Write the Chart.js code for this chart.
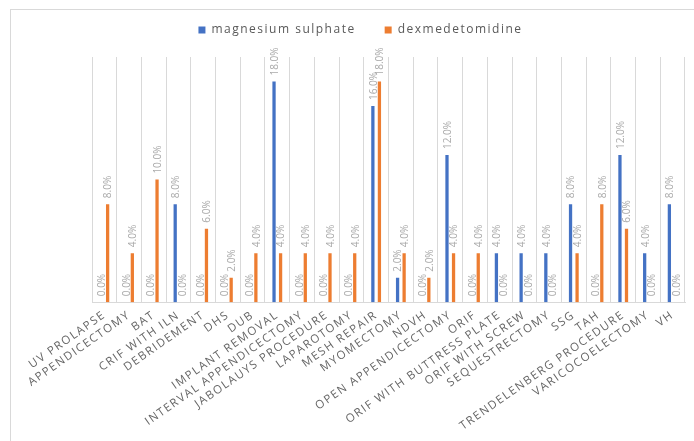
<!DOCTYPE html>
<html><head><meta charset="utf-8">
<script src="https://cdn.jsdelivr.net/npm/chart.js@4.4.1/dist/chart.umd.min.js"></script>
<style>html,body{margin:0;padding:0;background:#fff;}canvas{display:block;}</style>
</head><body>
<canvas id="c" width="694" height="441"></canvas>
<script>
const categories = ['UV PROLAPSE','APPENDICECTOMY','BAT','CRIF WITH ILN','DEBRIDEMENT','DHS','DUB','IMPLANT REMOVAL','INTERVAL APPENDICECTOMY','JABOLAUYS PROCEDURE','LAPAROTOMY','MESH REPAIR','MYOMECTOMY','NDVH','OPEN APPENDICECTOMY','ORIF','ORIF WITH BUTTRESS PLATE','ORIF WITH SCREW','SEQUESTRECTOMY','SSG','TAH','TRENDELENBERG PROCEDURE','VARICOCOELECTOMY','VH'];
const magnesiumSulphate = [0,0,0,8,0,0,0,18,0,0,0,16,2,0,12,0,4,4,4,8,0,12,4,8];
const dexmedetomidine   = [8,4,10,0,6,2,4,4,4,4,4,18,4,2,4,4,0,0,0,4,8,6,0,0];
const seriesNames = ['magnesium sulphate','dexmedetomidine'];
const seriesColors = ['#4472C4','#ED7D31'];
const yMin = 0, yMax = 20;

const SPACING = '1.5px';
const LEGEND_SHIFT = -11;
const spacingPlugin = {
  id:'spacing',
  beforeUpdate(chart){ chart.ctx.letterSpacing = SPACING; },
  afterLayout(chart){
    if (chart.legend){ chart.legend.top += LEGEND_SHIFT; chart.legend.bottom += LEGEND_SHIFT; }
  },
  beforeDraw(chart){
    const ctx = chart.ctx;
    ctx.letterSpacing = SPACING;
    ctx.save();
    ctx.fillStyle = '#fff';
    ctx.fillRect(0,0,chart.width,chart.height);
    ctx.strokeStyle = '#d9d9d9';
    ctx.lineWidth = 1;
    ctx.strokeRect(10.5, 9.5, 720, 480);
    ctx.restore();
  }
};
const valueLabels = {
  id:'valueLabels',
  afterDatasetsDraw(chart){
    const ctx = chart.ctx;
    ctx.save();
    ctx.letterSpacing = '0px';
    ctx.font = '10px "Open Sans"';
    ctx.fillStyle = '#aaaaaa';
    ctx.textAlign = 'left';
    ctx.textBaseline = 'middle';
    chart.data.datasets.forEach((ds,i)=>{
      chart.getDatasetMeta(i).data.forEach((el,j)=>{
        ctx.save();
        ctx.translate(el.x + 1, el.y - 6);
        ctx.rotate(-Math.PI/2);
        ctx.fillText(ds.data[j].toFixed(1) + '%', 0, 0);
        ctx.restore();
      });
    });
    ctx.restore();
  }
};

new Chart(document.getElementById('c'), {
  type:'bar',
  data:{
    labels: categories,
    datasets:[
      {label: seriesNames[0], data: magnesiumSulphate, backgroundColor: seriesColors[0]},
      {label: seriesNames[1], data: dexmedetomidine, backgroundColor: seriesColors[1]}
    ]
  },
  options:{
    responsive:false,
    animation:false,
    devicePixelRatio:1,
    categoryPercentage:0.53,
    barPercentage:0.5,
    layout:{padding:{top:6,left:36,right:9,bottom:2}},
    plugins:{
      legend:{
        position:'top',
        labels:{boxWidth:7, boxHeight:7, padding:29, color:'#595959', font:{family:'"Open Sans"', size:12}}
      },
      tooltip:{enabled:false}
    },
    scales:{
      x:{
        grid:{color:'#d9d9d9', drawTicks:false, offset:true},
        border:{display:true, color:'#d9d9d9'},
        ticks:{autoSkip:false, minRotation:35, maxRotation:35, padding:6, color:'#666666', font:{family:'"Open Sans"', size:11.5}}
      },
      y:{
        min:yMin, max:yMax,
        grid:{display:false},
        border:{display:false},
        ticks:{display:false},
        afterFit(scale){ scale.width = 56; }
      }
    }
  },
  plugins:[spacingPlugin, valueLabels]
});
</script>
</body></html>
